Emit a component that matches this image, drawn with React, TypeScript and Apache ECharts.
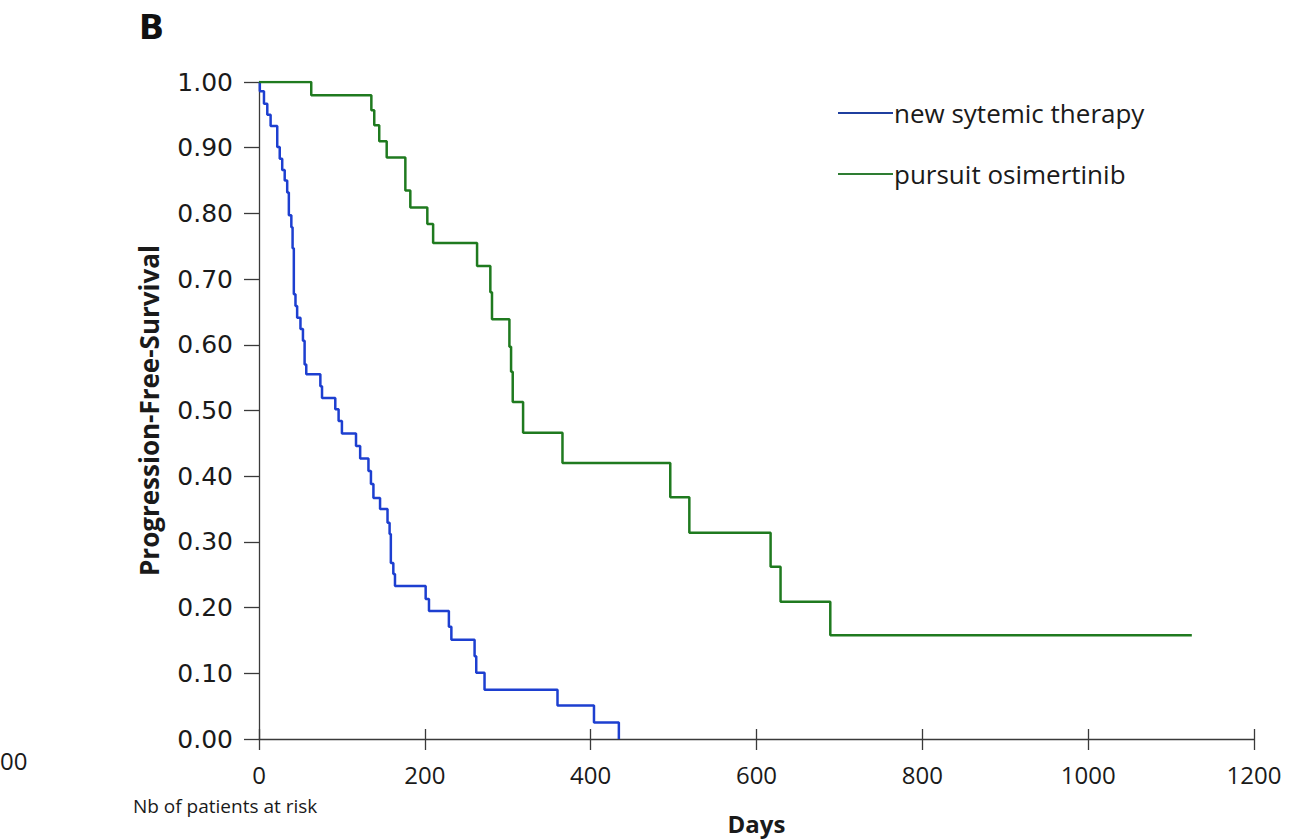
import React, { useEffect, useRef } from "react";
import * as echarts from "echarts";

// Kaplan-Meier: [day, survival after event]
const newSystemicDays = [0, 1, 6, 10, 14, 22, 25, 28, 31, 34, 36, 39, 40.5, 42, 44, 46, 50, 53, 55, 57, 74, 76, 92, 96, 100, 117, 122, 132, 135, 138, 146, 155, 157.5, 159, 162, 164, 201, 205, 229, 232, 260, 262, 272, 360, 404, 434];
const newSystemicPFS = [1.0, 0.986, 0.967, 0.95, 0.933, 0.901, 0.883, 0.866, 0.85, 0.832, 0.797, 0.779, 0.747, 0.677, 0.659, 0.641, 0.624, 0.606, 0.57, 0.555, 0.537, 0.519, 0.502, 0.484, 0.465, 0.446, 0.427, 0.408, 0.388, 0.367, 0.35, 0.329, 0.312, 0.268, 0.251, 0.233, 0.213, 0.195, 0.171, 0.151, 0.126, 0.101, 0.075, 0.051, 0.025, 0.0];

const osimertinibDays = [0, 63, 135.5, 139, 145, 154, 176.5, 182.5, 203, 210, 263, 279, 281, 302, 304, 306, 318.5, 366, 496, 519, 617, 629, 689, 1125];
const osimertinibPFS = [1.0, 0.98, 0.957, 0.934, 0.91, 0.885, 0.835, 0.809, 0.784, 0.755, 0.72, 0.68, 0.639, 0.597, 0.559, 0.513, 0.466, 0.42, 0.368, 0.314, 0.262, 0.209, 0.158, 0.158];

const seriesNames = ["new sytemic therapy", "pursuit osimertinib"];
const xTicks = { min: 0, max: 1200, interval: 200 };
const yTicks = { min: 0, max: 1, interval: 0.1 };

const BLUE = "#1d3fd0";
const GREEN = "#1f7a1f";

export default function App() {
  const ref = useRef<HTMLDivElement>(null);
  useEffect(() => {
    if (!ref.current) return;
    const chart = echarts.init(ref.current, undefined, { renderer: "svg" });
    const zip = (xs: number[], ys: number[]) => xs.map((x, i) => [x, ys[i]]);
    const axisColor = "#3a3a3a";
    chart.setOption({
      animation: false,
      backgroundColor: "#ffffff",
      grid: { left: 259, top: 82, width: 995, height: 657, containLabel: false },
      legend: {
        orient: "vertical",
        left: 838,
        top: 100,
        padding: 0,
        itemWidth: 55,
        itemHeight: 2,
        itemGap: 35,
        icon: "rect",
        textStyle: { fontFamily: "Open Sans", fontSize: 26, color: "#1a1a1a", padding: [0, 0, 0, -4] },
        data: [
          { name: seriesNames[0], itemStyle: { color: "#1f3f9f" } },
          { name: seriesNames[1], itemStyle: { color: "#2e7d32" } },
        ],
      },
      xAxis: [
        {
          type: "value",
          min: xTicks.min,
          max: xTicks.max,
          interval: xTicks.interval,
          name: "Days",
          nameLocation: "middle",
          nameGap: 72,
          nameTextStyle: { fontFamily: "Open Sans", fontWeight: "bold", fontSize: 24, color: "#1a1a1a" },
          axisLine: { show: true, lineStyle: { color: axisColor, width: 1.3 } },
          axisTick: { show: true, inside: false, length: 11, lineStyle: { color: axisColor, width: 1.3 } },
          axisLabel: {
            margin: 23,
            fontFamily: "Open Sans",
            fontSize: 24,
            color: "#1a1a1a",
            formatter: (v: number) => String(v),
          },
          splitLine: { show: false },
        },
        {
          type: "value",
          position: "bottom",
          min: xTicks.min,
          max: xTicks.max,
          interval: xTicks.interval,
          axisLine: { show: false },
          axisTick: { show: true, inside: true, length: 10, lineStyle: { color: axisColor, width: 1.3 } },
          axisLabel: { show: false },
          splitLine: { show: false },
        },
      ],
      yAxis: {
        type: "value",
        min: yTicks.min,
        max: yTicks.max,
        interval: yTicks.interval,
        name: "Progression-Free-Survival",
        nameLocation: "middle",
        nameGap: 97,
        nameRotate: 90,
        nameTextStyle: { fontFamily: "Open Sans", fontWeight: "bold", fontSize: 26, color: "#1a1a1a" },
        axisLine: { show: true, lineStyle: { color: axisColor, width: 1.3 } },
        axisTick: { show: true, inside: false, length: 15, lineStyle: { color: axisColor, width: 1.3 } },
        axisLabel: {
          margin: 26,
          fontFamily: "DejaVu Sans",
          fontSize: 25,
          color: "#1a1a1a",
          formatter: (v: number) => v.toFixed(2),
        },
        splitLine: { show: false },
      },
      graphic: [
        {
          type: "text",
          left: 139,
          top: 11,
          style: { text: "B", fontFamily: "DejaVu Sans", fontWeight: "bold", fontSize: 33, fill: "#111" },
        },
        {
          type: "text",
          left: 133,
          top: 796,
          style: { text: "Nb of patients at risk", fontFamily: "Open Sans", fontSize: 19, fill: "#1a1a1a" },
        },
        {
          type: "text",
          left: 0,
          top: 748,
          style: { text: "00", fontFamily: "Open Sans", fontSize: 24, fill: "#1a1a1a" },
        },
      ],
      series: [
        {
          name: seriesNames[0],
          type: "line",
          step: "end",
          showSymbol: false,
          symbol: "none",
          data: zip(newSystemicDays, newSystemicPFS),
          lineStyle: { color: BLUE, width: 2.5 },
          itemStyle: { color: BLUE },
          z: 3,
        },
        {
          name: seriesNames[1],
          type: "line",
          step: "end",
          showSymbol: false,
          symbol: "none",
          data: zip(osimertinibDays, osimertinibPFS),
          lineStyle: { color: GREEN, width: 2.5 },
          itemStyle: { color: GREEN },
          z: 4,
        },
      ],
    });
    return () => chart.dispose();
  }, []);
  return (
    <div
      ref={ref}
      style={{ position: "absolute", left: 0, top: 0, width: 1294, height: 840, background: "#fff" }}
    />
  );
}
